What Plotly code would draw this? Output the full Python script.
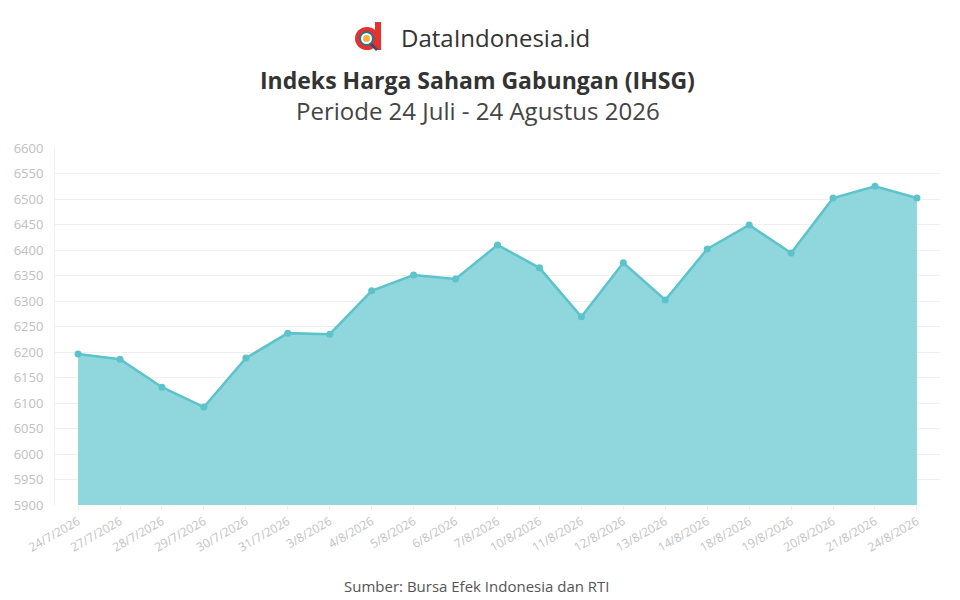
import plotly.graph_objects as go

dates = ["24/7/2026", "27/7/2026", "28/7/2026", "29/7/2026", "30/7/2026", "31/7/2026",
         "3/8/2026", "4/8/2026", "5/8/2026", "6/8/2026", "7/8/2026", "10/8/2026",
         "11/8/2026", "12/8/2026", "13/8/2026", "14/8/2026", "18/8/2026", "19/8/2026",
         "20/8/2026", "21/8/2026", "24/8/2026"]
ihsg = [6196, 6186, 6131, 6092, 6188, 6237, 6235, 6320, 6351, 6343, 6410, 6365,
        6269, 6375, 6302, 6402, 6449, 6394, 6502, 6525, 6502]
y_ticks = list(range(5900, 6601, 50))

FONT = "Open Sans, Noto Sans, sans-serif"
W, H = 960, 600
L, R, T, B = 55, 20, 148, 95
PW, PH = W - L - R, H - T - B


def px(xp):
    return (xp - L) / PW


def py(yp):
    return (T + PH - yp) / PH


fig = go.Figure()
fig.add_trace(go.Scatter(
    x=dates, y=ihsg, mode="lines+markers",
    line=dict(color="#5cc3cb", width=2.5),
    marker=dict(color="#5cc3cb", size=7),
    fill="tozeroy", fillcolor="rgba(135,210,218,0.92)",
    hoverinfo="x+y", showlegend=False,
))

ann = [
    dict(text="DataIndonesia.id", x=px(495), y=py(37),
         font=dict(size=24, color="#333333")),
    dict(text="<b>Indeks Harga Saham Gabungan (IHSG)</b>", x=px(477), y=py(80),
         font=dict(size=23, color="#333333")),
    dict(text="Periode 24 Juli - 24 Agustus 2026", x=px(478), y=py(111),
         font=dict(size=24, color="#444444")),
    dict(text="Sumber: Bursa Efek Indonesia dan RTI", x=px(477), y=py(586),
         font=dict(size=15, color="#555555")),
]
for a in ann:
    a.update(xref="paper", yref="paper", showarrow=False,
             xanchor="center", yanchor="middle")

# logo icon: red "d" with magnifier
logo = [
    dict(type="rect", x0=px(375), x1=px(381), y0=py(50), y1=py(22),
         fillcolor="#e4332f", line=dict(width=0)),
    dict(type="circle", x0=px(355), x1=px(379), y0=py(50), y1=py(27),
         fillcolor="#e4332f", line=dict(width=0)),
    dict(type="circle", x0=px(360), x1=px(373), y0=py(45), y1=py(32),
         fillcolor="white", line=dict(width=2, color="#2f6f8f")),
    dict(type="circle", x0=px(363), x1=px(370), y0=py(42), y1=py(35),
         fillcolor="#f2b33d", line=dict(width=0)),
    dict(type="line", x0=px(371), x1=px(377), y0=py(44), y1=py(50),
         line=dict(width=2.5, color="#2f4f6f")),
]
for s in logo:
    s.update(xref="paper", yref="paper", layer="above")

fig.update_layout(
    width=W, height=H,
    paper_bgcolor="white", plot_bgcolor="white",
    margin=dict(l=L, r=R, t=T, b=B, autoexpand=False),
    font=dict(family=FONT),
    xaxis=dict(
        type="category", range=[-0.55, 20.55], automargin=False,
        tickangle=-30, tickfont=dict(size=12, color="#c2c2c2"),
        showgrid=False, showline=False, ticks="outside", ticklen=4,
        tickcolor="#eeeeee", zeroline=False,
    ),
    yaxis=dict(
        range=[5900, 6600], tickvals=y_ticks, automargin=False,
        tickfont=dict(size=13, color="#c0c0c0"),
        showgrid=True, gridcolor="#efefef", gridwidth=1,
        zeroline=False, showline=True, linecolor="#f0f0f0",
        ticks="", ticklabelstandoff=8,
    ),
    annotations=ann,
    shapes=logo,
)

fig.write_html(
    "out.html",
    config={"displayModeBar": False},
    post_script="document.body.style.margin='0';document.body.style.padding='0';",
)
